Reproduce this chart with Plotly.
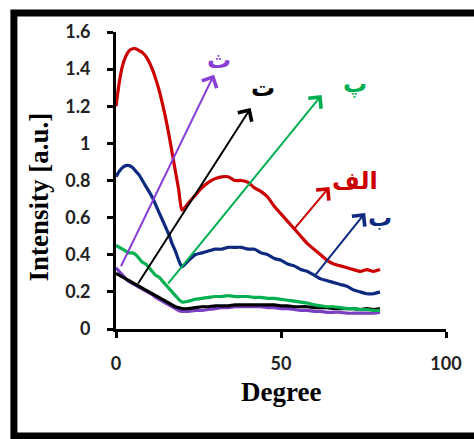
import plotly.graph_objects as go

# ---- data ----
degree = list(range(0, 21)) + list(range(22, 81, 2))

red_alef = [1.20, 1.33, 1.42, 1.47, 1.50, 1.51, 1.51, 1.50, 1.49, 1.47, 1.44, 1.40, 1.35, 1.29, 1.22, 1.14, 1.05, 0.95, 0.85, 0.75, 0.64,
            0.68, 0.72, 0.76, 0.79, 0.81, 0.82, 0.82, 0.80, 0.80, 0.79, 0.76, 0.74, 0.71, 0.66, 0.62, 0.58, 0.54, 0.50, 0.46, 0.43,
            0.40, 0.37, 0.35, 0.34, 0.33, 0.32, 0.31, 0.32, 0.31, 0.32]
blue_be = [0.82, 0.85, 0.87, 0.88, 0.88, 0.87, 0.85, 0.83, 0.80, 0.77, 0.74, 0.71, 0.67, 0.63, 0.59, 0.55, 0.51, 0.46, 0.42, 0.37, 0.335,
           0.37, 0.40, 0.41, 0.42, 0.43, 0.43, 0.44, 0.44, 0.44, 0.43, 0.43, 0.41, 0.40, 0.38, 0.37, 0.35, 0.34, 0.32, 0.31, 0.29,
           0.27, 0.26, 0.25, 0.24, 0.23, 0.21, 0.20, 0.19, 0.19, 0.20]
green_pe = [0.45, 0.44, 0.43, 0.42, 0.41, 0.41, 0.40, 0.38, 0.36, 0.35, 0.33, 0.31, 0.29, 0.28, 0.26, 0.24, 0.22, 0.20, 0.18, 0.16, 0.145,
            0.15, 0.16, 0.165, 0.17, 0.175, 0.175, 0.18, 0.175, 0.175, 0.175, 0.17, 0.17, 0.165, 0.165, 0.16, 0.155, 0.15, 0.145, 0.14, 0.13,
            0.125, 0.12, 0.12, 0.115, 0.11, 0.11, 0.105, 0.105, 0.10, 0.10]
black_te = [0.30, 0.29, 0.28, 0.27, 0.26, 0.25, 0.24, 0.23, 0.22, 0.21, 0.20, 0.19, 0.18, 0.17, 0.16, 0.15, 0.14, 0.13, 0.12, 0.115, 0.11,
            0.11, 0.115, 0.12, 0.12, 0.125, 0.125, 0.125, 0.13, 0.13, 0.13, 0.13, 0.13, 0.13, 0.13, 0.125, 0.125, 0.12, 0.12, 0.12, 0.115,
            0.115, 0.115, 0.11, 0.11, 0.11, 0.11, 0.105, 0.11, 0.105, 0.11]
purple_se = [0.33, 0.31, 0.29, 0.27, 0.255, 0.245, 0.235, 0.225, 0.215, 0.205, 0.195, 0.185, 0.17, 0.16, 0.15, 0.14, 0.13, 0.12, 0.11, 0.10, 0.095,
             0.095, 0.10, 0.10, 0.105, 0.11, 0.115, 0.115, 0.12, 0.12, 0.12, 0.12, 0.12, 0.115, 0.115, 0.11, 0.11, 0.105, 0.10, 0.10, 0.095,
             0.095, 0.09, 0.09, 0.09, 0.085, 0.085, 0.085, 0.085, 0.085, 0.09]

series_names = ["ث", "ت", "پ", "ب", "الف"]
series_values = [purple_se, black_te, green_pe, blue_be, red_alef]
series_colors = ["#7B3FC4", "#000000", "#00B050", "#0D2A80", "#CC0000"]

# arrows: tail (x, y) -> head (x, y), and label positions
arrow_tail_x = [1.3, 6.4, 15.4, 60.2, 53.7]
arrow_tail_y = [0.33, 0.237, 0.237, 0.286, 0.533]
arrow_head_x = [29.7, 40.8, 62.3, 75.5, 64.7]
arrow_head_y = [1.37, 1.19, 1.26, 0.625, 0.765]
label_x = [31.3, 44.5, 72.3, 80.0, 72.5]
label_y = [1.45, 1.30, 1.32, 0.60, 0.80]
arrow_colors = ["#8A3FD6", "#000000", "#00B050", "#0D2A80", "#CC0000"]

x_ticks = [0, 50, 100]
y_ticks = [0, 0.2, 0.4, 0.6, 0.8, 1.0, 1.2, 1.4, 1.6]
y_tick_text = ["0", "0.2", "0.4", "0.6", "0.8", "1", "1.2", "1.4", "1.6"]

# ---- layout geometry (pixels) ----
W, H = 474, 439
L, R, T, B = 115.5, 24, 32, 110
PW, PH = W - L - R, H - T - B


def px(xp):
    return (xp - L) / PW


def py(yp):
    return (H - B - yp) / PH


fig = go.Figure()
for name, vals, col in zip(series_names, series_values, series_colors):
    fig.add_trace(go.Scatter(x=degree, y=vals, mode="lines", name=name,
                             line=dict(color=col, width=3.2, shape="spline", smoothing=0.6),
                             showlegend=False))

annotations = []
for tx, ty, hx, hy, lx, ly, name, col in zip(arrow_tail_x, arrow_tail_y, arrow_head_x, arrow_head_y,
                                              label_x, label_y, series_names, arrow_colors):
    annotations.append(dict(x=hx, y=hy, ax=tx, ay=ty, xref="x", yref="y", axref="x", ayref="y",
                            showarrow=True, arrowhead=4, arrowsize=1.6, arrowwidth=2, arrowcolor=col, text=""))
    annotations.append(dict(x=lx, y=ly, xref="x", yref="y", text=name, showarrow=False,
                            xanchor="center", yanchor="middle",
                            font=dict(family="DejaVu Sans", size=24, color=col, weight="bold")))

annotations.append(dict(x=px(37), y=py(197), xref="paper", yref="paper", text="Intensity [a.u.]",
                        textangle=-90, showarrow=False, xanchor="center", yanchor="middle",
                        font=dict(family="Liberation Serif", size=27, color="black", weight="bold")))
annotations.append(dict(x=px(283), y=py(392), xref="paper", yref="paper", text="Degree",
                        showarrow=False, xanchor="center", yanchor="middle",
                        font=dict(family="Liberation Serif", size=27, color="black", weight="bold")))

fig.update_layout(
    width=W, height=H,
    margin=dict(l=L, r=R, t=T, b=B, pad=0),
    paper_bgcolor="white", plot_bgcolor="white",
    annotations=annotations,
    shapes=[dict(type="rect", xref="paper", yref="paper", x0=px(12), x1=px(500), y0=py(436), y1=py(13),
                 line=dict(color="black", width=7), layer="above")],
)
fig.update_xaxes(range=[0, 100], tickvals=x_ticks, showgrid=False, zeroline=False,
                 showline=True, linecolor="black", linewidth=3, ticks="outside", ticklen=6, tickwidth=3,
                 tickcolor="black", ticklabelstandoff=10,
                 tickfont=dict(family="Lato", size=18, color="#222", weight="bold"))
fig.update_yaxes(range=[0, 1.6], tickvals=y_ticks, ticktext=y_tick_text, showgrid=False, zeroline=False,
                 showline=True, linecolor="black", linewidth=3, ticks="outside", ticklen=6, tickwidth=3,
                 tickcolor="black", ticklabelstandoff=13,
                 tickfont=dict(family="Lato", size=18, color="#222", weight="bold"))

fig.write_html("out.html", config={"displayModeBar": False},
               post_script="document.body.style.margin='0px';")
